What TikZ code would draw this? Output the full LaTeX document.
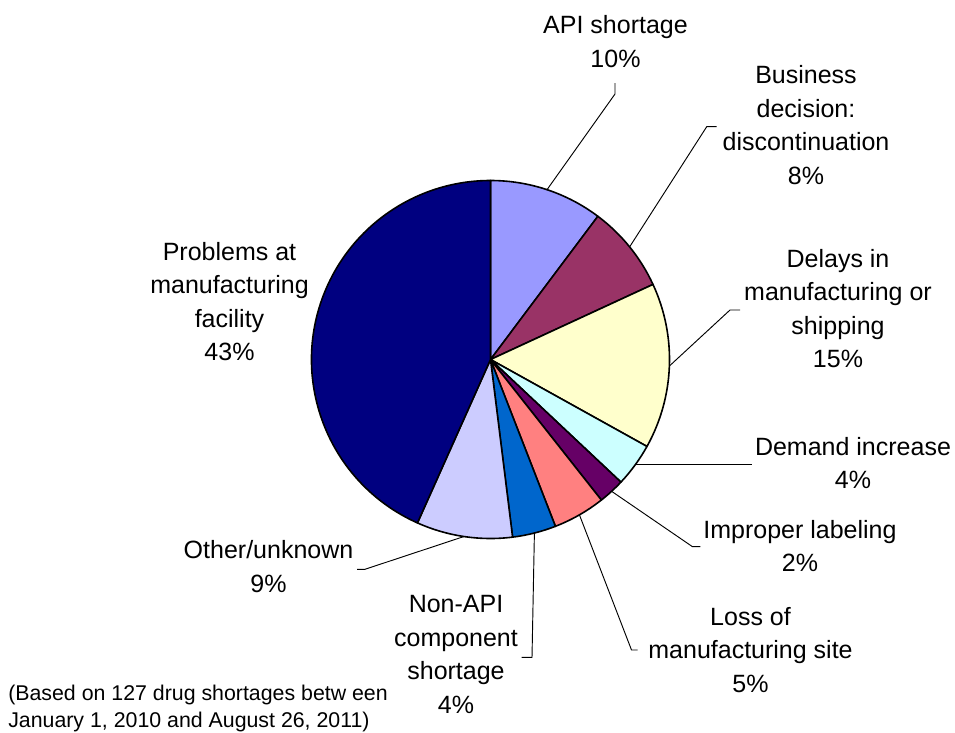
\documentclass[tikz,border=0pt]{standalone}
\usepackage{fontspec}
\setmainfont{Liberation Sans}
\usepackage{xcolor}

\begin{document}
\begin{tikzpicture}[x=0.75pt,y=0.75pt,yscale=-1,xscale=1,
    sector/.style={draw=black, line width=1.2pt, line join=round},
    leader/.style={draw=black, line width=0.7pt},
    sliceText/.style={anchor=north, inner sep=0pt, align=center, font=\fontsize{18.75}{25.1}\selectfont},
    noteText/.style={anchor=north west, inner sep=0pt, align=left, font=\fontsize{16}{20.3}\selectfont}]
        \useasboundingbox (0,0) rectangle (955,732);

        \coordinate (pc) at (490.5,359.5);

        %Shape: Sector [API shortage]
        \draw [sector, fill={rgb, 255:red, 153; green, 153; blue, 255 }] (pc) -- ++(-90:179) arc [start angle=-90, end angle=-53.15, radius=179] -- cycle ;
        %Shape: Sector [Business decision]
        \draw [sector, fill={rgb, 255:red, 153; green, 51; blue, 102 }] (pc) -- ++(-53.15:179) arc [start angle=-53.15, end angle=-24.80, radius=179] -- cycle ;
        %Shape: Sector [Delays]
        \draw [sector, fill={rgb, 255:red, 255; green, 255; blue, 204 }] (pc) -- ++(-24.80:179) arc [start angle=-24.80, end angle=29.06, radius=179] -- cycle ;
        %Shape: Sector [Demand increase]
        \draw [sector, fill={rgb, 255:red, 204; green, 255; blue, 255 }] (pc) -- ++(29.06:179) arc [start angle=29.06, end angle=43.23, radius=179] -- cycle ;
        %Shape: Sector [Improper labeling]
        \draw [sector, fill={rgb, 255:red, 102; green, 0; blue, 102 }] (pc) -- ++(43.23:179) arc [start angle=43.23, end angle=51.73, radius=179] -- cycle ;
        %Shape: Sector [Loss of site]
        \draw [sector, fill={rgb, 255:red, 255; green, 128; blue, 128 }] (pc) -- ++(51.73:179) arc [start angle=51.73, end angle=68.74, radius=179] -- cycle ;
        %Shape: Sector [Non-API]
        \draw [sector, fill={rgb, 255:red, 0; green, 102; blue, 204 }] (pc) -- ++(68.74:179) arc [start angle=68.74, end angle=82.91, radius=179] -- cycle ;
        %Shape: Sector [Other]
        \draw [sector, fill={rgb, 255:red, 204; green, 204; blue, 255 }] (pc) -- ++(82.91:179) arc [start angle=82.91, end angle=114.09, radius=179] -- cycle ;
        %Shape: Sector [Problems at facility]
        \draw [sector, fill={rgb, 255:red, 0; green, 0; blue, 128 }] (pc) -- ++(114.09:179) arc [start angle=114.09, end angle=270, radius=179] -- cycle ;

        % Text Node
        \node [sliceText] (apiText) at (615.5,15.3) {API shortage\\10\%};
        % Text Node
        \node [sliceText] (businessText) at (806,65.3) {Business\\decision:\\discontinuation\\8\%};
        % Text Node
        \node [sliceText] (delaysText) at (838,248.7) {Delays in\\manufacturing or\\shipping\\15\%};
        % Text Node
        \node [sliceText] (demandText) at (853,437) {Demand increase\\4\%};
        % Text Node
        \node [sliceText] (improperText) at (800,520) {Improper labeling\\2\%};
        % Text Node
        \node [sliceText] (lossText) at (750.5,607) {Loss of\\manufacturing site\\5\%};
        % Text Node
        \node [sliceText] (nonApiText) at (456,595.3) {Non-API\\component\\shortage\\4\%};
        % Text Node
        \node [sliceText] (otherText) at (268.5,540.3) {Other/unknown\\9\%};
        % Text Node
        \node [sliceText] (problemsText) at (229.5,242) {Problems at\\manufacturing\\facility\\43\%};
        % Text Node
        \node [noteText] (basedText) at (8,684.7) {(Based on 127 drug shortages betw een\\January 1, 2010 and August 26, 2011)};

        %Straight Lines [leaders]
        \coordinate (apiEdge) at (547,189.7);
        \coordinate (apiBend) at (615,94);
        \coordinate (apiEnd) at (615,83);
        \draw [leader] (apiEdge) -- (apiBend) -- (apiEnd) ;
        \coordinate (businessEdge) at (629.6,246.9);
        \coordinate (businessBend) at (706.7,126.7);
        \coordinate (businessEnd) at (716.7,126.7);
        \draw [leader] (businessEdge) -- (businessBend) -- (businessEnd) ;
        \coordinate (delaysEdge) at (669.4,366);
        \coordinate (delaysBend) at (730,310);
        \coordinate (delaysEnd) at (740,310);
        \draw [leader] (delaysEdge) -- (delaysBend) -- (delaysEnd) ;
        \coordinate (demandEdge) at (635,464.5);
        \coordinate (demandEnd) at (752,464.5);
        \draw [leader] (demandEdge) -- (demandEnd) ;
        \coordinate (improperEdge) at (611.6,491.3);
        \coordinate (improperBend) at (692.5,546.7);
        \coordinate (improperEnd) at (700.4,546.7);
        \draw [leader] (improperEdge) -- (improperBend) -- (improperEnd) ;
        \coordinate (lossEdge) at (579.4,514.8);
        \coordinate (lossBend) at (631.5,650);
        \coordinate (lossEnd) at (637.6,650);
        \draw [leader] (lossEdge) -- (lossBend) -- (lossEnd) ;
        \coordinate (nonApiEdge) at (534.4,533);
        \coordinate (nonApiBend) at (532,657.3);
        \coordinate (nonApiEnd) at (521.7,657.3);
        \draw [leader] (nonApiEdge) -- (nonApiBend) -- (nonApiEnd) ;
        \coordinate (otherEdge) at (464,536.5);
        \coordinate (otherBend) at (364.9,569.3);
        \coordinate (otherEnd) at (357,569.3);
        \draw [leader] (otherEdge) -- (otherBend) -- (otherEnd) ;

\end{tikzpicture}
\end{document}
